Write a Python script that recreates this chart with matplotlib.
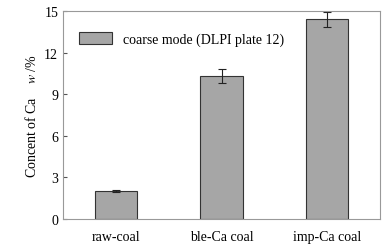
import matplotlib.pyplot as plt
import numpy as np

categories = ["raw-coal", "ble-Ca coal", "imp-Ca coal"]
values = [2.02, 10.3, 14.4]
errors = [0.06, 0.5, 0.52]
yticks = [0, 3, 6, 9, 12, 15]

plt.rcParams['font.family'] = ['Liberation Serif', 'DejaVu Serif']
plt.rcParams['mathtext.fontset'] = 'stix'

fig = plt.figure(figsize=(3.92, 2.51), dpi=100)
ax = fig.add_axes([63/392, 1-220/251, 317/392, 208/251])

x = np.arange(len(categories))
ax.bar(x, values, width=0.4, color='#a6a6a6', edgecolor='#333333', lw=0.8,
       yerr=errors, capsize=3, error_kw={'elinewidth': 0.8, 'capthick': 0.8, 'ecolor': '#222222'},
       label='coarse mode (DLPI plate 12)')

ax.set_xlim(-0.5, 2.5)
ax.set_ylim(0, 15)
ax.set_yticks(yticks)
ax.set_xticks(x)
ax.set_xticklabels(categories, fontsize=10)
ax.tick_params(axis='y', direction='in', length=3, color='#555555', labelsize=10)
ax.tick_params(axis='x', length=0, pad=8)
for s in ax.spines.values():
    s.set_color('#999999')
    s.set_linewidth(0.8)

ax.set_ylabel("Concent of Ca    $\\mathit{w}$ /%", fontsize=10)
ax.legend(loc='upper left', frameon=False, fontsize=10, handlelength=2.4, handleheight=1.0,
          bbox_to_anchor=(0.01, 0.96))

fig.savefig("out.png", dpi=100)
